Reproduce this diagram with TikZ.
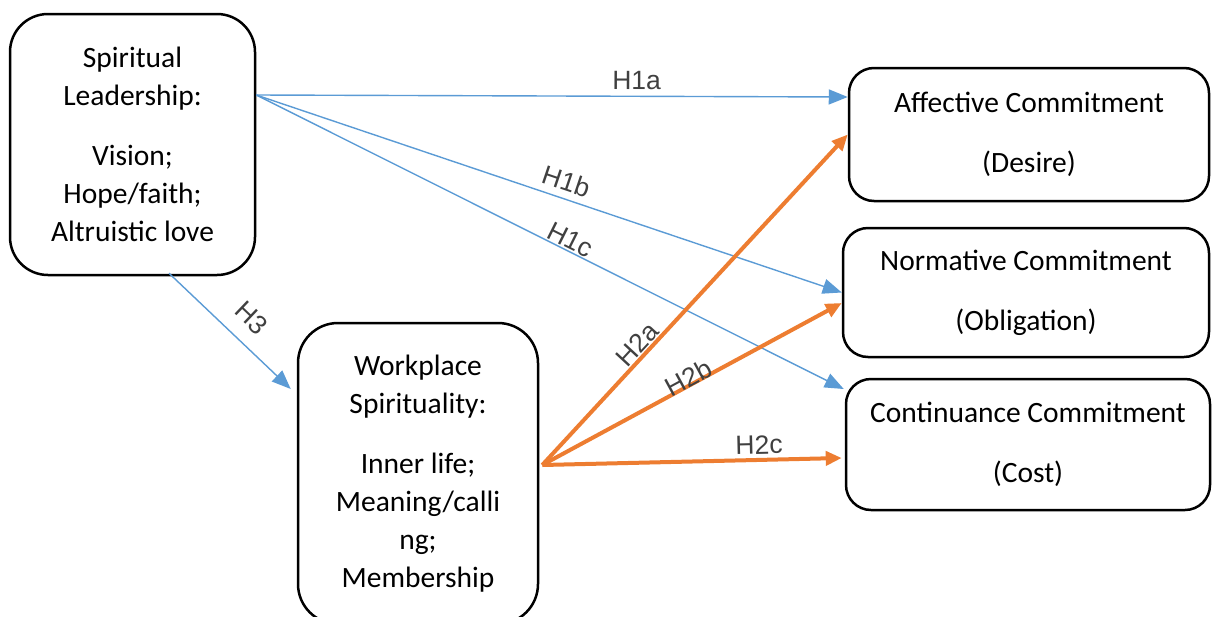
\documentclass[tikz,border=0pt]{standalone}
\usepackage{fontspec}
\setmainfont{Carlito}
\newfontfamily\labfont{Liberation Sans}
\usetikzlibrary{arrows.meta}
\definecolor{bluearr}{HTML}{5B9BD5}
\definecolor{orangearr}{HTML}{ED7D31}
\definecolor{labgray}{HTML}{404040}
\tikzset{
  boxnode/.style={draw=black, line width=2.5pt, align=center, inner sep=0pt,
    font=\fontsize{29.5}{38}\selectfont},
  bluearrow/.style={draw=bluearr, line width=1.4pt, -{Triangle[length=19pt,width=15pt]}},
  orangearrow/.style={draw=orangearr, line width=4pt, -{Triangle[length=16pt,width=14pt]}},
  hlabel/.style={font=\labfont\fontsize{26.5}{30}\selectfont, text=labgray, inner sep=0pt, sloped}
}
\begin{document}
\begin{tikzpicture}[x=1pt,y=-1pt]
\useasboundingbox (0,0) rectangle (1212,616);
% boxes
\node[boxnode, rounded corners=38pt, minimum width=245pt, minimum height=261pt] (SL) at (132.5,144.5)
  {Spiritual\\Leadership:\\[22pt]Vision;\\Hope/faith;\\Altruistic love};
\node[boxnode, rounded corners=40pt, minimum width=240pt, minimum height=301pt] (WS) at (418,473.5)
  {Workplace\\Spirituality:\\[22pt]Inner life;\\Meaning/calli\\ng;\\Membership};
\node[boxnode, rounded corners=25pt, minimum width=360pt, minimum height=133pt] (A) at (1029,134.5)
  {Affective Commitment\\[22pt](Desire)};
\node[boxnode, rounded corners=25pt, minimum width=366pt, minimum height=129pt] (N) at (1026,292.5)
  {Normative Commitment\\[22pt](Obligation)};
\node[boxnode, rounded corners=25pt, minimum width=364pt, minimum height=131pt] (C) at (1028,444.5)
  {Continuance Commitment\\[22pt](Cost)};
% connector end points
\coordinate (slout) at ([yshift=49.5pt]SL.east);
\coordinate (slbot) at ([xshift=36.5pt,yshift=3pt]SL.south);
\coordinate (wsin) at ([xshift=-6pt,yshift=84.5pt]WS.west);
\coordinate (wsout) at ([xshift=3pt,yshift=8.5pt]WS.east);
\coordinate (a1) at ([yshift=37.5pt]A.west);
\coordinate (a2) at (A.west);
\coordinate (n1) at (N.west);
\coordinate (n2) at ([yshift=-10.5pt]N.west);
\coordinate (c1) at ([xshift=-1pt,yshift=55.5pt]C.west);
\coordinate (c2) at ([xshift=-3pt,yshift=-13.5pt]C.west);
% blue arrows
\draw[bluearrow] (slout) -- node[hlabel, pos=0.643, above=5.5pt] (l1a) {H1a} (a1);
\draw[bluearrow] (slout) -- node[hlabel, pos=0.52, above=7pt] (l1b) {H1b} (n1);
\draw[bluearrow] (slout) -- node[hlabel, pos=0.526, above=1pt] (l1c) {H1c} (c1);
\draw[bluearrow] (slbot) -- node[hlabel, pos=0.54, above=14.5pt] (l3) {H3} (wsin);
% orange arrows
\draw[orangearrow] (wsout) -- node[hlabel, pos=0.34, above=1pt] (l2a) {H2a} (a2);
\draw[orangearrow] (wsout) -- node[hlabel, pos=0.5, above=-5pt] (l2b) {H2b} (n2);
\draw[orangearrow] (wsout) -- node[hlabel, pos=0.725, above=3.5pt] (l2c) {H2c} (c2);
\end{tikzpicture}
\end{document}
